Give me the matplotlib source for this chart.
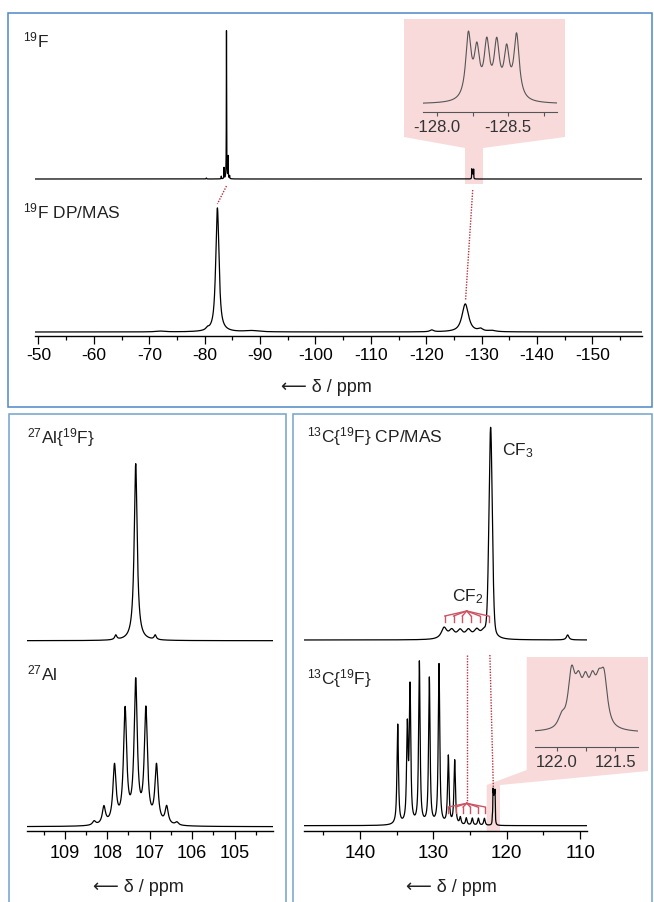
import numpy as np
import matplotlib.pyplot as plt
from matplotlib.patches import Polygon, Rectangle
from matplotlib.ticker import MultipleLocator, FixedLocator, FormatStrFormatter

plt.rcParams['font.family'] = ['Liberation Sans', 'DejaVu Sans']
plt.rcParams['mathtext.default'] = 'regular'
plt.rcParams['axes.unicode_minus'] = False

W, H = 654, 902  # figure size in pixels

# peak tables: position (ppm), height (px above baseline), half width (ppm)
# 19F in solution
f19_pos = [-80.3, -83.0, -83.5, -83.94, -84.23, -84.5,
           -128.22, -128.28, -128.35, -128.42, -128.49, -128.56]
f19_hgt = [1.0, 2.7, 11, 148, 22, 3, 9, 6.5, 7.5, 7.5, 6.5, 9]
f19_hw = [0.05, 0.03, 0.03, 0.03, 0.03, 0.03, 0.023, 0.023, 0.023, 0.023, 0.023, 0.023]
# 19F DP/MAS
mas_pos = [-72.0, -80.5, -82.3, -88.5, -121.0, -127.05, -129.8, -131.8]
mas_hgt = [0.8, 2.0, 124, 1.2, 1.8, 28, 2.5, 1.2]
mas_hw = [1.0, 0.3, 0.35, 1.5, 0.4, 0.7, 0.5, 0.8]
# 27Al{19F}
alf_pos = [107.80, 107.33, 106.87]
alf_hgt = [4.5, 177, 4.5]
alf_hw = [0.03, 0.042, 0.03]
# 27Al
al_pos = [108.31, 108.08, 107.83, 107.58, 107.33, 107.09, 106.84, 106.60, 106.36]
al_hgt = [4, 17.5, 57.6, 112.8, 140.6, 112.8, 57.6, 17.5, 3]
al_hw = 0.045
# 13C{19F} CP/MAS
cp_pos = [111.7, 122.2, 128.55, 127.5, 126.37, 125.23, 124.1, 123.18]
cp_hgt = [5, 211, 11, 8, 8, 8, 8, 5]
cp_hw = [0.2, 0.27, 0.45, 0.45, 0.45, 0.45, 0.45, 0.45]
cp_eta = [1, 0.3, 1, 1, 1, 1, 1, 1]
# 13C{19F}
c_pos = [134.87, 133.56, 133.19, 131.92, 130.56, 129.24, 127.97, 127.10,
         126.33, 125.52, 124.70, 123.87, 123.05,
         121.96, 121.875, 121.815, 121.755, 121.695, 121.64, 121.595]
c_hgt = [100, 94, 134, 162, 146, 160, 68, 64, 7, 7, 7, 7, 7,
         6, 29, 20, 20, 20, 18, 25]
c_hw = [0.12] * 13 + [0.035] * 7

# CF2 splitting trees and correlation lines
cf2_center = 125.46
cf2_legs_cp = [128.44, 127.25, 126.06, 124.87, 123.68, 122.49]
cf2_legs_c = [127.96, 126.96, 125.96, 124.96, 123.96, 122.96]
f19_links = [(-83.94, -82.3), (-128.39, -127.1)]
c_links = [(125.46, 125.46), (122.3, 121.83)]

RED = '#b8323f'
TREE = '#cc5563'
PINK = '#f8dadb'


def lines(x, pos, hgt, hw, eta=1.0):
    pos, hgt, hw, eta = np.broadcast_arrays(*[np.atleast_1d(np.asarray(v, float))
                                              for v in (pos, hgt, hw, eta)])
    d = (x[:, None] - pos) / hw
    shape = eta / (1 + d ** 2) + (1 - eta) * np.exp(-np.log(2) * d ** 2)
    return (shape * hgt).sum(axis=1)


def fx(x, y):
    return (x / W, 1 - y / H)


def px_axes(left, right, bottom, top):
    ax = fig.add_axes([left / W, 1 - bottom / H, (right - left) / W, (bottom - top) / H])
    ax.patch.set_visible(False)
    for s in ['left', 'right', 'top']:
        ax.spines[s].set_visible(False)
    ax.set_yticks([])
    return ax


def style_x(ax, major, minor, fs, pad, fmt='%d'):
    ax.xaxis.set_major_locator(MultipleLocator(major))
    ax.xaxis.set_minor_locator(MultipleLocator(minor))
    ax.xaxis.set_major_formatter(FormatStrFormatter(fmt))
    ax.spines['bottom'].set_linewidth(1.0)
    ax.tick_params(axis='x', which='major', length=6, width=0.9, labelsize=fs, pad=pad)
    ax.tick_params(axis='x', which='minor', length=3.2, width=0.9)


def ftext(x, y, s, **kw):
    kw.setdefault('fontsize', 12.5)
    kw.setdefault('color', '#222222')
    fig.text(x / W, 1 - y / H, s, **kw)


def tree(ax, center, legs, y_apex, y_top, y_bot):
    for p in legs:
        ax.plot([center, p], [y_apex, y_top], color=TREE, lw=1.0)
        ax.plot([p, p], [y_top, y_bot], color=TREE, lw=1.0)


fig = plt.figure(figsize=(W / 100, H / 100), dpi=100)

# panel frames
fig.add_artist(Rectangle(fx(8, 407), 644 / W, 394 / H, transform=fig.transFigure,
                         fill=False, ec='#4d88c4', lw=1.1))
fig.add_artist(Rectangle(fx(9, 912), 277 / W, 498 / H, transform=fig.transFigure,
                         fill=False, ec='#72a2cc', lw=1.1))
fig.add_artist(Rectangle(fx(293, 912), 359 / W, 498 / H, transform=fig.transFigure,
                         fill=False, ec='#72a2cc', lw=1.1))

# pink zoom callouts
top_call = [(404, 19), (565, 19), (565, 137), (483, 148), (483, 184),
            (465, 184), (465, 148), (404, 137)]
fig.add_artist(Polygon([fx(*p) for p in top_call], closed=True, transform=fig.transFigure,
                       fc=PINK, ec='none', zorder=-1))
bot_call = [(526.7, 657), (648, 657), (648, 771), (500, 785), (500, 831),
            (486.7, 831), (486.7, 785), (526.7, 770)]
fig.add_artist(Polygon([fx(*p) for p in bot_call], closed=True, transform=fig.transFigure,
                       fc=PINK, ec='none', zorder=-1))

# ---- top panel: 19F
ax1 = px_axes(34.6, 641.7, 336, 20)
x1 = np.linspace(-49.3, -158.9, 40000)
ax1.plot(x1, 157 + lines(x1, f19_pos, f19_hgt, f19_hw), color='k', lw=0.9)
ax1.plot(x1, 4 + lines(x1, mas_pos, mas_hgt, mas_hw, 0.85), color='k', lw=0.9)
for a, b in f19_links:
    ytop = 157 - 7 if a > -100 else 157 - 11
    ybot = 4 + (lines(np.array([b]), mas_pos, mas_hgt, mas_hw, 0.85)[0]) + 4
    ax1.plot([a, b], [ytop, ybot], color=RED, lw=1.0, ls=(0, (1, 1)))
ax1.set_xlim(-49.3, -158.9)
ax1.set_ylim(0, 316)
style_x(ax1, 10, 5, 12.5, 3)

axi = px_axes(423, 557, 112, 25)
xi = np.linspace(-127.9, -128.845, 3000)
yi = lines(xi, f19_pos, f19_hgt, f19_hw)
M = yi.max()
axi.plot(xi, yi, color='#555555', lw=0.8)
axi.set_xlim(-127.9, -128.845)
axi.set_ylim(-8 / 73 * M, 79 / 73 * M)
axi.xaxis.set_major_locator(FixedLocator([-128.0, -128.5]))
axi.xaxis.set_minor_locator(FixedLocator([-128.25, -128.75]))
axi.xaxis.set_major_formatter(FormatStrFormatter('%.1f'))
axi.spines['bottom'].set_color('#555555')
axi.tick_params(axis='x', which='both', length=3, width=0.8, color='#555555',
                labelcolor='#333333', labelsize=12, pad=3)

ftext(23, 47, r'$^{19}$F', va='baseline')
ftext(23, 218, r'$^{19}$F DP/MAS', va='baseline')
ftext(326, 388, '⟵ δ / ppm', ha='center', va='center', fontsize=13)

# ---- bottom left: 27Al
ax2 = px_axes(26.7, 272.7, 831, 440)
x2 = np.linspace(109.9, 104.1, 20000)
ax2.plot(x2, 190.3 + lines(x2, alf_pos, alf_hgt, alf_hw), color='k', lw=0.9)
ax2.plot(x2, 4.3 + lines(x2, al_pos, al_hgt, al_hw), color='k', lw=0.9)
ax2.set_xlim(109.9, 104.1)
ax2.set_ylim(0, 391)
style_x(ax2, 1, 0.5, 13, 4)
ftext(27, 443, r'$^{27}$Al{$^{19}$F}', va='baseline')
ftext(27, 680.7, r'$^{27}$Al', va='baseline')
ftext(138, 887, '⟵ δ / ppm', ha='center', va='center', fontsize=13)

# ---- bottom right: 13C
ax3 = px_axes(304, 586.7, 831, 420)
x3 = np.linspace(147.65, 109.1, 40000)
ax3.plot(x3, 191 + lines(x3, cp_pos, cp_hgt, cp_hw, cp_eta), color='k', lw=0.9)
ax3.plot(x3, 5.3 + lines(x3, c_pos, c_hgt, c_hw, 0.85), color='k', lw=0.9)
(a0, b0), (a1, b1) = c_links
ax3.plot([a0, b0], [176, 28], color=RED, lw=1.0, ls=(0, (1, 1)))
ax3.plot([a1, b1], [176, 43], color=RED, lw=1.0, ls=(0, (1, 1)))
tree(ax3, cf2_center, cf2_legs_cp, 220, 215, 208.7)
tree(ax3, cf2_center, cf2_legs_c, 27.7, 24, 17.7)
ax3.set_xlim(147.65, 109.1)
ax3.set_ylim(0, 411)
style_x(ax3, 10, 5, 13.5, 4)

axj = px_axes(535, 638.3, 746.7, 660)
xj = np.linspace(122.19, 121.30, 3000)
yj = lines(xj, c_pos, c_hgt, c_hw, 0.85)
M2 = yj.max()
axj.plot(xj, yj, color='#555555', lw=0.8)
axj.set_xlim(122.19, 121.30)
axj.set_ylim(-13.7 / 68 * M2, 73 / 68 * M2)
axj.xaxis.set_major_locator(FixedLocator([122.0, 121.5]))
axj.xaxis.set_minor_locator(FixedLocator([121.75]))
axj.xaxis.set_major_formatter(FormatStrFormatter('%.1f'))
axj.spines['bottom'].set_color('#555555')
axj.tick_params(axis='x', which='both', length=3, width=0.8, color='#555555',
                labelcolor='#333333', labelsize=12, pad=3)

ftext(306.7, 442, r'$^{13}$C{$^{19}$F} CP/MAS', va='baseline')
ftext(306.7, 684, r'$^{13}$C{$^{19}$F}', va='baseline')
ftext(501.7, 455, r'CF$_3$', va='baseline')
ftext(451.7, 601, r'CF$_2$', va='baseline')
ftext(451, 887, '⟵ δ / ppm', ha='center', va='center', fontsize=13)

fig.savefig('out.png', dpi=100)
